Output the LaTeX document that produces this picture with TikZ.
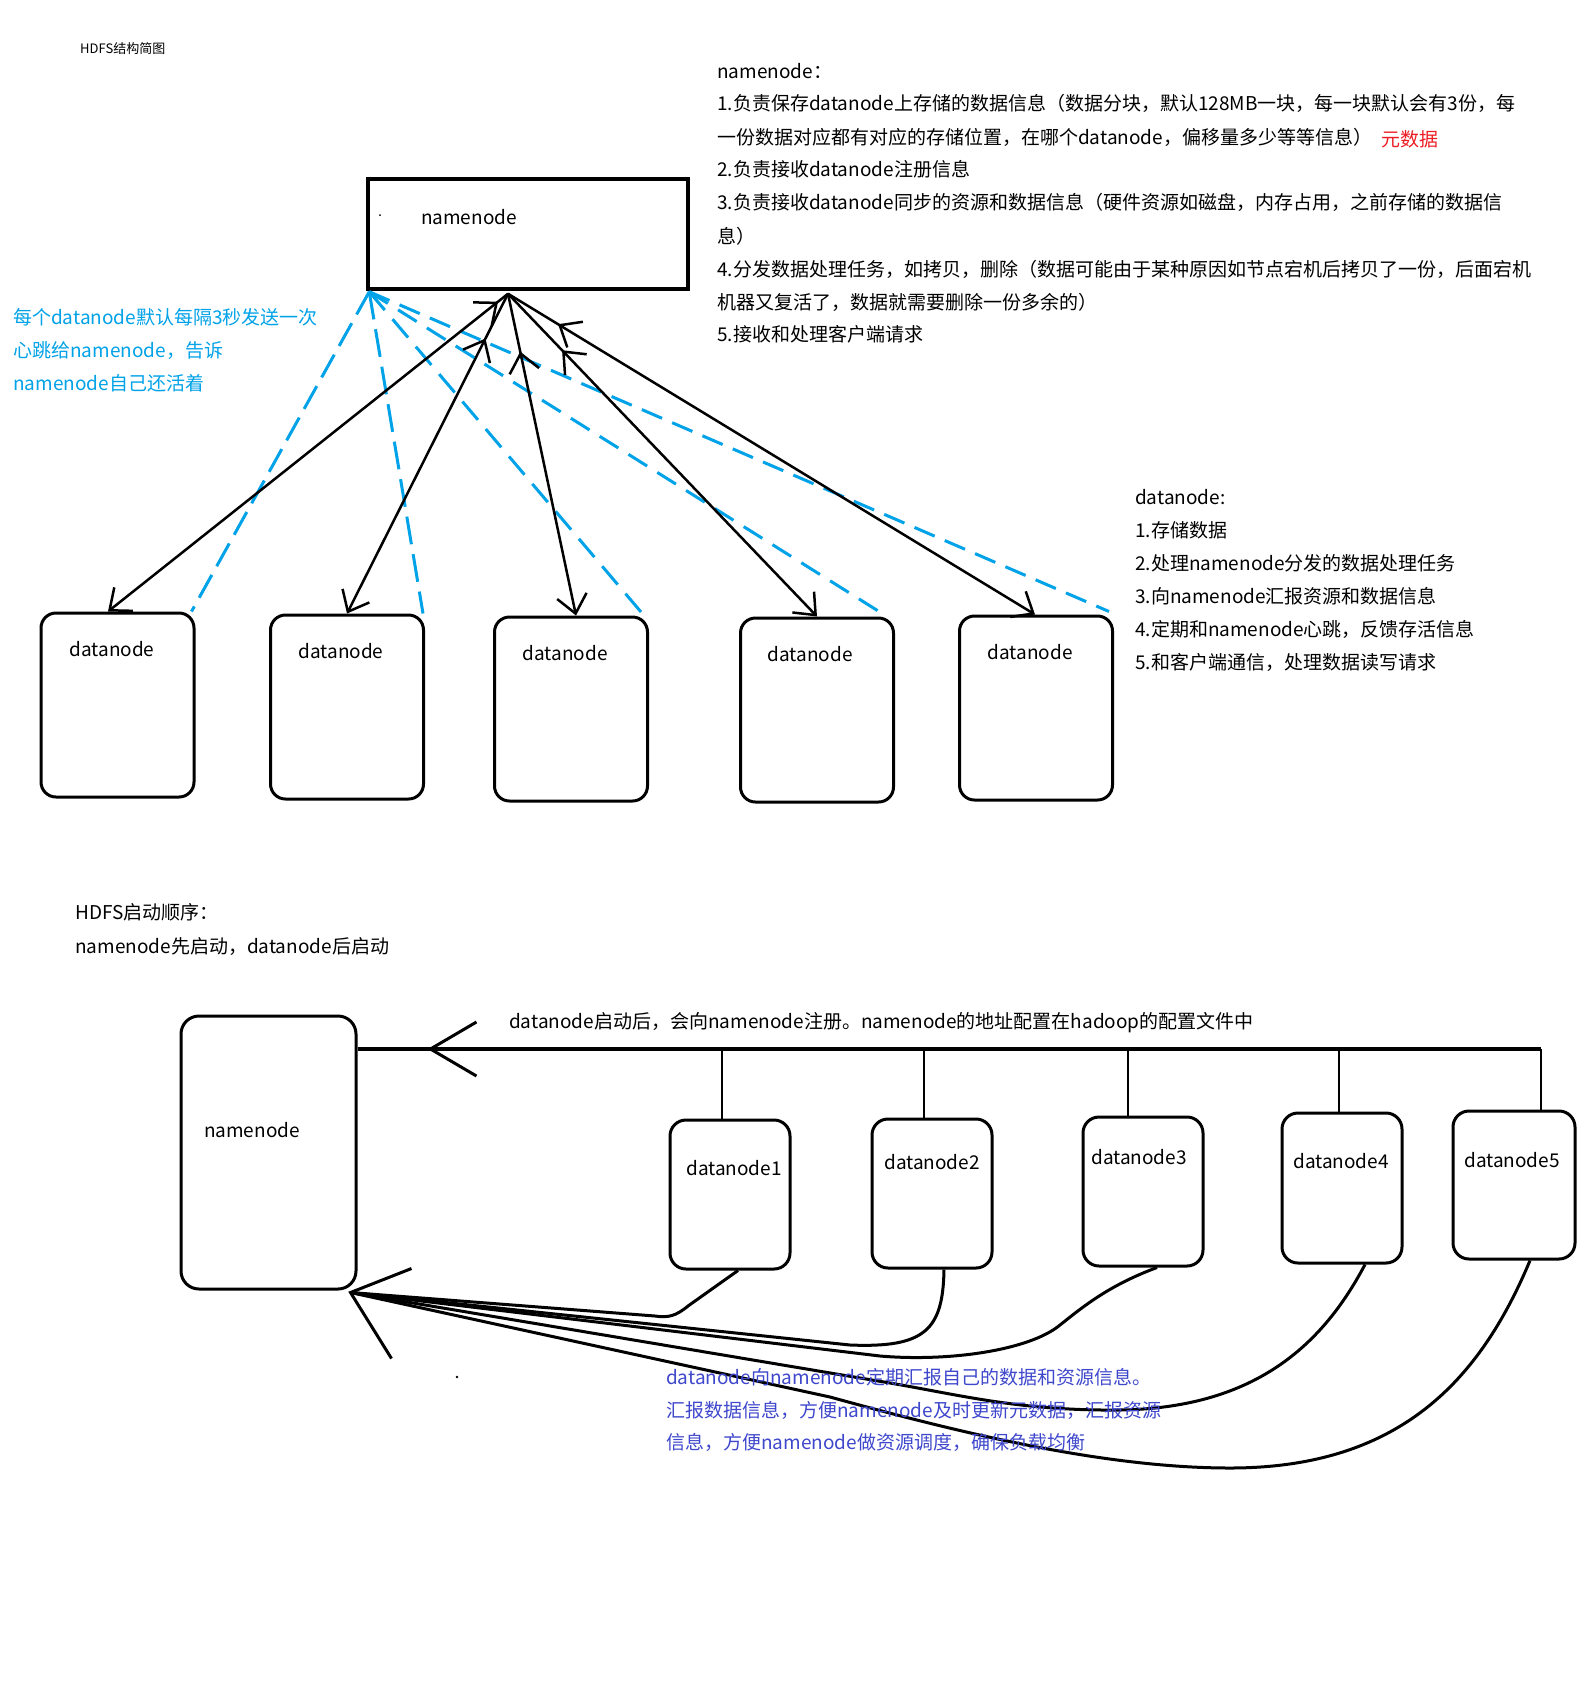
\documentclass[tikz,border=0pt]{standalone}
\usepackage{fontspec}
\setmainfont{Noto Sans CJK SC}
\usetikzlibrary{arrows.meta,decorations.markings}
\definecolor{pblue}{HTML}{00A2E8}
\definecolor{pind}{HTML}{3F48CC}
\definecolor{pred}{HTML}{ED1C24}
\begin{document}
\begin{tikzpicture}[x=1pt,y=-1pt,
 txt/.style={anchor=west,inner sep=0pt,font=\fontsize{19}{22}\selectfont,text height=15pt,text depth=3pt},
 lbl/.style={inner sep=0pt,font=\fontsize{19}{22}\selectfont,text height=15pt,text depth=3pt},
 rbox/.style={draw,line width=3pt,rounded corners=15pt,minimum width=153pt,minimum height=184pt,inner sep=0pt},
 sbox/.style={draw,line width=3pt,rounded corners=16pt,minimum width=120pt,minimum height=149pt,inner sep=0pt},
 link/.style={line width=2.5pt},
 hb/.style={pblue,line width=3pt,dash pattern=on 24pt off 11pt},
 downtip/.style={-{Straight Barb[length=18pt,width=30pt]}},
 upmark/.style={postaction={decorate},decoration={markings,mark=at position #1 with {\arrowreversed{Straight Barb[length=18pt,width=30pt]}}}},
 curve/.style={line width=3pt},
]
\fill[white] (0,0) rectangle (1590,1682);
\useasboundingbox (0,0) rectangle (1590,1682);

% ---------- texts top ----------
\node[anchor=west,inner sep=0pt,font=\fontsize{13}{15}\selectfont] (title) at (80,49) {HDFS结构简图};
\node[txt] (nt1) at (717,72) {namenode：};
\node[txt] (nt2) at (717,104) {1.负责保存datanode上存储的数据信息（数据分块，默认128MB一块，每一块默认会有3份，每};
\node[txt] (nt3) at (717,138) {一份数据对应都有对应的存储位置，在哪个datanode，偏移量多少等等信息）};
\node[txt,text=pred] (ntr) at (1381,140) {元数据};
\node[txt] (nt4) at (717,170) {2.负责接收datanode注册信息};
\node[txt] (nt5) at (717,203) {3.负责接收datanode同步的资源和数据信息（硬件资源如磁盘，内存占用，之前存储的数据信};
\node[txt] (nt6) at (717,237) {息）};
\node[txt] (nt7) at (717,270) {4.分发数据处理任务，如拷贝，删除（数据可能由于某种原因如节点宕机后拷贝了一份，后面宕机};
\node[txt] (nt8) at (717,303) {机器又复活了，数据就需要删除一份多余的）};
\node[txt] (nt9) at (717,335) {5.接收和处理客户端请求};

\node[txt,text=pblue] (hl1) at (13,318) {每个datanode默认每隔3秒发送一次};
\node[txt,text=pblue] (hl2) at (13,351) {心跳给namenode，告诉};
\node[txt,text=pblue] (hl3) at (13,384) {namenode自己还活着};

\node[txt] (dt0) at (1135,498) {datanode:};
\node[txt] (dt1) at (1135,531) {1.存储数据};
\node[txt] (dt2) at (1135,564) {2.处理namenode分发的数据处理任务};
\node[txt] (dt3) at (1135,597) {3.向namenode汇报资源和数据信息};
\node[txt] (dt4) at (1135,630) {4.定期和namenode心跳，反馈存活信息};
\node[txt] (dt5) at (1135,663) {5.和客户端通信，处理数据读写请求};

% ---------- top diagram ----------
\node[draw,line width=3.5pt,minimum width=320pt,minimum height=110pt,inner sep=0pt] (nn) at (528,234) {};
\node[lbl] (nnl) at (469,218) {namenode};
\fill (380,215) circle (1pt);

\node[rbox] (d1) at (117.5,705) {};
\node[rbox] (d2) at (347,707) {};
\node[rbox] (d3) at (571,709) {};
\node[rbox] (d4) at (817,710) {};
\node[rbox] (d5) at (1036,708) {};
\node[lbl] (d1l) at (112,650) {datanode};
\node[lbl] (d2l) at (341,652) {datanode};
\node[lbl] (d3l) at (565,654) {datanode};
\node[lbl] (d4l) at (810,655) {datanode};
\node[lbl] (d5l) at (1030,653) {datanode};

\coordinate (nnb) at ([xshift=-20pt,yshift=-3pt]nn.south);
\coordinate (hbo) at ([xshift=3pt,yshift=-1pt]nn.south west);

% blue heartbeat lines
\draw[hb,dash pattern=on 26pt off 10pt] (hbo) -- ([xshift=-4pt]d1.north east);
\draw[hb,dash pattern=on 28pt off 10pt] (hbo) -- ([xshift=-2pt]d2.north east);
\draw[hb,dash pattern=on 24pt off 12pt] (hbo) -- ([xshift=-5pt]d3.north east);
\draw[hb,dash pattern=on 22pt off 12pt] (hbo) -- ([xshift=-8pt]d4.north east);
\draw[hb,dash pattern=on 22pt off 11pt] (hbo) -- ([xshift=-5pt,yshift=3pt]d5.north east);

% black task/report lines
\draw[link,downtip,upmark=0.025] (nnb) -- ([xshift=-9.5pt]d1.north);
\draw[link,downtip,upmark=0.14] (nnb) -- (d2.north);
\draw[link,downtip,upmark=0.18] (nnb) -- ([xshift=5pt]d3.north);
\draw[link,downtip,upmark=0.175] (nnb) -- (d4.north);
\draw[link,downtip,upmark=0.095] (nnb) -- ([xshift=-1pt]d5.north);

% ---------- bottom section ----------
\node[txt] (st1) at (75,913) {HDFS启动顺序：};
\node[txt] (st2) at (75,947) {namenode先启动，datanode后启动};

\node[draw,line width=3pt,rounded corners=18pt,minimum width=175pt,minimum height=273pt,inner sep=0pt] (nn2) at (268.5,1152.5) {};
\node[lbl] (nn2l) at (252,1131) {namenode};

\node[sbox] (b1) at (730,1194.5) {};
\node[sbox] (b2) at (932,1193.5) {};
\node[sbox] (b3) at (1143,1191.5) {};
\node[sbox,minimum height=150pt] (b4) at (1342,1188) {};
\node[sbox,minimum width=122pt,minimum height=148pt] (b5) at (1514,1185) {};
\node[lbl] (b1l) at (734,1169) {datanode1};
\node[lbl] (b2l) at (932,1163) {datanode2};
\node[lbl] (b3l) at (1139,1158) {datanode3};
\node[lbl] (b4l) at (1341,1162) {datanode4};
\node[lbl] (b5l) at (1512,1161) {datanode5};

\node[txt] (busl) at (509,1022) {datanode启动后，会向namenode注册。namenode的地址配置在hadoop的配置文件中};

\coordinate (busR) at (1541,1049);
\draw[line width=3.5pt,postaction={decorate},decoration={markings,mark=at position 70pt with {\arrowreversed[line width=3pt]{Straight Barb[length=46pt,width=54pt]}}}]
  (nn2.east |- busR) -- (busR);
\draw[line width=2.5pt] (busR) -- (busR |- b5.north);
\draw[line width=2.5pt] ([xshift=-8pt]b1.north) -- ([xshift=-8pt]b1.north |- busR);
\draw[line width=2.5pt] ([xshift=-8pt]b2.north) -- ([xshift=-8pt]b2.north |- busR);
\draw[line width=2.5pt] ([xshift=-15pt]b3.north) -- ([xshift=-15pt]b3.north |- busR);
\draw[line width=2.5pt] ([xshift=-3pt]b4.north) -- ([xshift=-3pt]b4.north |- busR);

% report curves
\coordinate (nnc) at ([xshift=-7pt,yshift=-2pt]nn2.south east);
\draw[curve] ([xshift=8pt]b1.south) -- (688,1306) .. controls (676,1316) and (668,1318) .. (655,1316) -- (nnc);
\draw[curve] ([xshift=12pt]b2.south) .. controls (943,1330) and (925,1348) .. (850,1345) -- (nnc);
\draw[curve] ([xshift=14pt]b3.south) .. controls (1110,1285) and (1085,1305) .. (1060,1325) .. controls (1030,1350) and (950,1362) .. (880,1356) -- (nnc);
\draw[curve] ([xshift=23pt]b4.south) .. controls (1320,1350) and (1250,1408) .. (1120,1410) .. controls (1020,1411) and (960,1395) .. (890,1383) -- (nnc);
\draw[curve] ([xshift=16pt]b5.south) .. controls (1480,1380) and (1400,1468) .. (1230,1468) .. controls (1100,1468) and (950,1430) .. (830,1397) -- (nnc);
\draw[line width=3pt] ([shift={(61,-24)}]nnc) -- (nnc) -- ([shift={(41,66)}]nnc);
\fill (457,1377) circle (1.3pt);

\node[txt,text=pind] (rp1) at (666,1378) {datanode向namenode定期汇报自己的数据和资源信息。};
\node[txt,text=pind] (rp2) at (666,1411) {汇报数据信息，方便namenode及时更新元数据，汇报资源};
\node[txt,text=pind] (rp3) at (666,1443) {信息，方便namenode做资源调度，确保负载均衡};
\end{tikzpicture}
\end{document}
